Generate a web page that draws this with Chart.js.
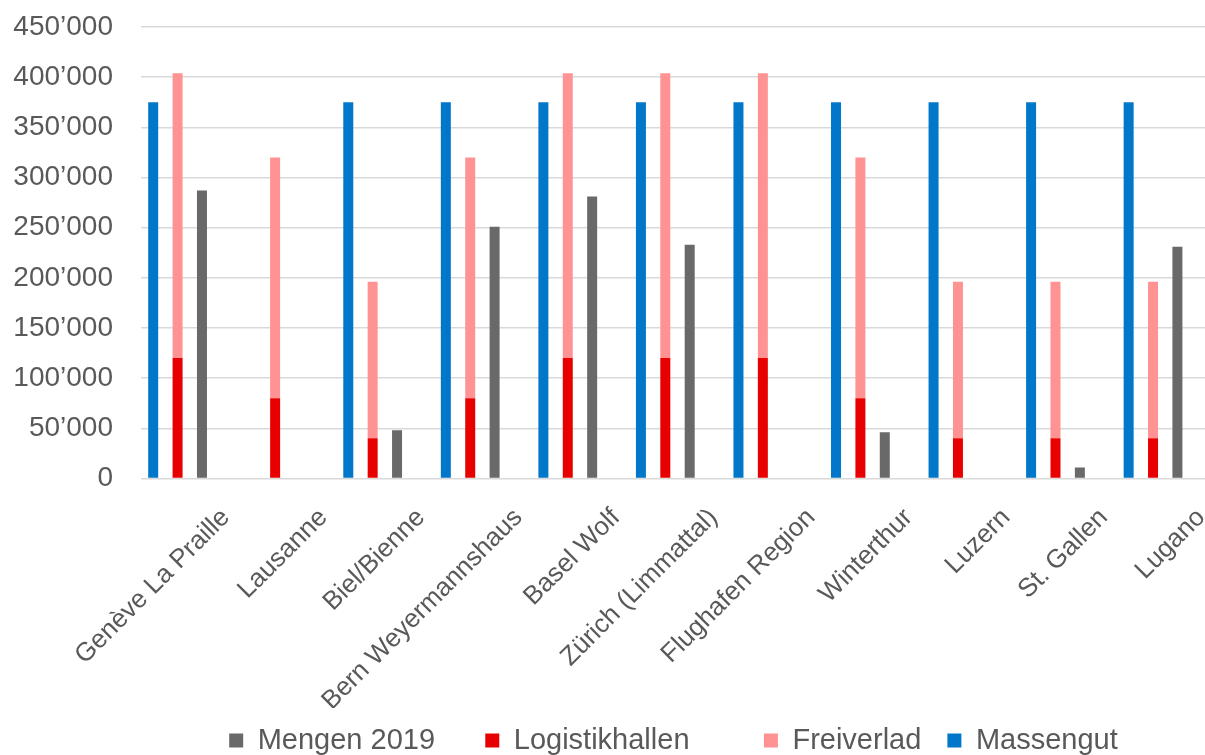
<!DOCTYPE html>
<html>
<head>
<meta charset="utf-8">
<script src="https://cdn.jsdelivr.net/npm/chart.js@4.4.1/dist/chart.umd.min.js"></script>
<style>
  html, body { margin: 0; padding: 0; background: #fff; overflow: hidden; }
  #wrap { width: 1214px; height: 765px; }
</style>
</head>
<body>
<div id="wrap"><canvas id="chart" width="1214" height="765"></canvas></div>
<script>
// categories (terminals)
var categories = ['Genève La Praille', 'Lausanne', 'Biel/Bienne', 'Bern Weyermannshaus', 'Basel Wolf',
    'Zürich (Limmattal)', 'Flughafen Region', 'Winterthur', 'Luzern', 'St. Gallen', 'Lugano'];

// series values
var massengut      = [375000, 0, 375000, 375000, 375000, 375000, 375000, 375000, 375000, 375000, 375000];
var logistikhallen = [120000, 80000, 40000, 80000, 120000, 120000, 120000, 80000, 40000, 40000, 40000];
var freiverlad     = [284000, 240000, 156000, 240000, 284000, 284000, 284000, 240000, 156000, 156000, 156000];
var mengen2019     = [287000, 0, 48000, 251000, 281000, 233000, 0, 46000, 0, 11000, 231000];
var leer           = [0, 0, 0, 0, 0, 0, 0, 0, 0, 0, 0]; // empty 4th slot per category

// y tick labels
var yTickLabels = ['0', '50’000', '100’000', '150’000', '200’000', '250’000',
    '300’000', '350’000', '400’000', '450’000'];

// legend order and spacing (extra spaces after each label, by dataset index)
var legendRank = [3, 1, 2, 0];
var legendGap = [1, 7, 1, 4];

var fontFamily = "'Liberation Sans', Arial, sans-serif";
var textColor = '#595959';

var ctx = document.getElementById('chart').getContext('2d');
var chart = new Chart(ctx, {
    type: 'bar',
    data: {
        labels: categories,
        datasets: [
            { label: 'Massengut', data: massengut, stack: 's1', backgroundColor: '#0077C8' },
            { label: 'Logistikhallen', data: logistikhallen, stack: 's2', backgroundColor: '#E80000' },
            { label: 'Freiverlad', data: freiverlad, stack: 's2', backgroundColor: '#FF9393' },
            { label: 'Mengen 2019', data: mengen2019, stack: 's3', backgroundColor: '#696969' },
            { label: '', data: leer, stack: 's4', backgroundColor: 'rgba(0,0,0,0)' }
        ]
    },
    options: {
        responsive: false,
        animation: false,
        devicePixelRatio: 1,
        datasets: {
            bar: { categoryPercentage: 1.0, barPercentage: 0.41, borderWidth: 0 }
        },
        layout: { padding: { top: 27, right: 0, bottom: 0, left: 0 } },
        scales: {
            x: {
                grid: { display: false, drawTicks: false },
                border: { display: false },
                ticks: {
                    minRotation: 45,
                    maxRotation: 45,
                    autoSkip: false,
                    labelOffset: 36,
                    padding: 24,
                    color: textColor,
                    font: { family: fontFamily, size: 26 }
                },
                afterFit: function(scale) { scale.height = 229.5; }
            },
            y: {
                stacked: true,
                min: 0,
                max: 450000,
                grid: { color: '#d9d9d9', lineWidth: 1.5, drawTicks: true, tickLength: 28, tickColor: 'rgba(0,0,0,0)' },
                border: { display: false },
                ticks: {
                    stepSize: 50000,
                    padding: 0,
                    color: textColor,
                    font: { family: fontFamily, size: 28 },
                    callback: function(value, i) { return yTickLabels[i]; }
                },
                afterFit: function(scale) { scale.width = 141; }
            }
        },
        plugins: {
            tooltip: { enabled: false },
            legend: {
                position: 'bottom',
                fullSize: false,
                labels: {
                    boxWidth: 14,
                    boxHeight: 14,
                    padding: 18,
                    color: textColor,
                    font: { family: fontFamily, size: 29 },
                    generateLabels: function(c) {
                        var items = Chart.defaults.plugins.legend.labels.generateLabels(c);
                        items.forEach(function(item) {
                            var n = legendGap[item.datasetIndex] || 0;
                            item.text = item.text + ' '.repeat(n);
                        });
                        return items;
                    },
                    filter: function(item) { return item.datasetIndex !== 4; },
                    sort: function(a, b) { return legendRank[a.datasetIndex] - legendRank[b.datasetIndex]; }
                }
            }
        }
    }
});
</script>
</body>
</html>
